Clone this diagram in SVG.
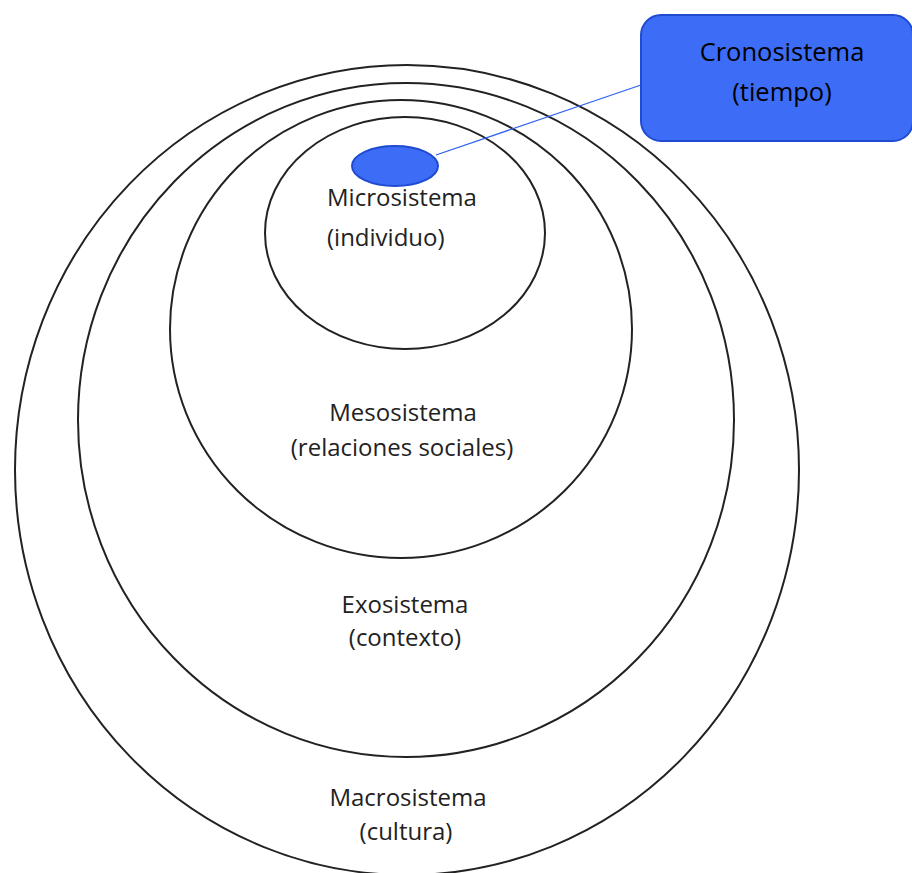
<svg xmlns="http://www.w3.org/2000/svg" width="912" height="873" viewBox="0 0 912 873">
  <style>
    .ring { fill: none; stroke: #222; stroke-width: 2; }
    .lbl { font-family: "Open Sans", "Noto Sans", sans-serif; font-size: 24px; fill: #222; text-anchor: middle; }
    .blbl { font-family: "Open Sans", "Noto Sans", sans-serif; font-size: 25.5px; fill: #000; text-anchor: middle; }
  </style>
  <rect width="912" height="873" fill="#fff"/>

  <g id="macrosistema">
    <ellipse class="ring" cx="407" cy="470" rx="392" ry="405"/>
    <text class="lbl" x="408" y="806">Macrosistema</text>
    <text class="lbl" x="406" y="840">(cultura)</text>
  </g>

  <g id="exosistema">
    <ellipse class="ring" cx="406" cy="420" rx="328" ry="337"/>
    <text class="lbl" x="405" y="613">Exosistema</text>
    <text class="lbl" x="405" y="646">(contexto)</text>
  </g>

  <g id="mesosistema">
    <ellipse class="ring" cx="401" cy="329" rx="231" ry="229"/>
    <text class="lbl" x="403" y="421">Mesosistema</text>
    <text class="lbl" x="402" y="456">(relaciones sociales)</text>
  </g>

  <g id="microsistema">
    <ellipse class="ring" cx="405" cy="233" rx="140" ry="116"/>
    <text class="lbl" x="327" y="206" style="text-anchor:start">Microsistema</text>
    <text class="lbl" x="327" y="246" style="text-anchor:start">(individuo)</text>
  </g>

  <g id="connectors">
    <line x1="436" y1="155" x2="641" y2="85" stroke="#2f62f0" stroke-width="1.3"/>
  </g>

  <g id="tiempo-punto">
    <ellipse cx="395" cy="166" rx="43" ry="20" fill="#3d6df6" stroke="#1f4bd0" stroke-width="2"/>
  </g>

  <g id="cronosistema">
    <rect x="641" y="15" width="272" height="126" rx="20" ry="20" fill="#3d6df6" stroke="#1f4bd0" stroke-width="2"/>
    <text class="blbl" x="782" y="61">Cronosistema</text>
    <text class="blbl" x="782" y="101">(tiempo)</text>
  </g>
</svg>
